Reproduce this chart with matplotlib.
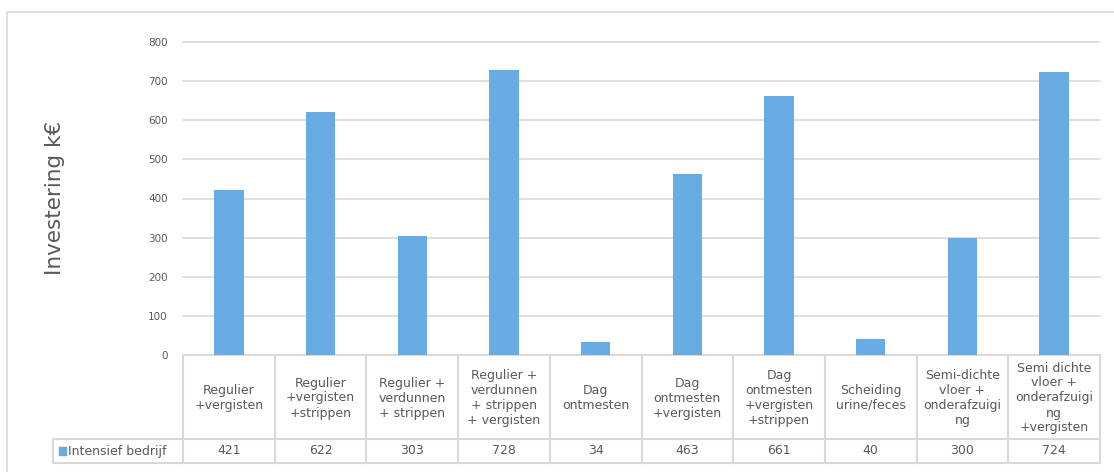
import matplotlib.pyplot as plt
from matplotlib.patches import Rectangle

categories = [
    "Regulier\n+vergisten",
    "Regulier\n+vergisten\n+strippen",
    "Regulier +\nverdunnen\n+ strippen",
    "Regulier +\nverdunnen\n+ strippen\n+ vergisten",
    "Dag\nontmesten",
    "Dag\nontmesten\n+vergisten",
    "Dag\nontmesten\n+vergisten\n+strippen",
    "Scheiding\nurine/feces",
    "Semi-dichte\nvloer +\nonderafzuigi\nng",
    "Semi dichte\nvloer +\nonderafzuigi\nng\n+vergisten",
]
series_name = "Intensief bedrijf"
investering = [421, 622, 303, 728, 34, 463, 661, 40, 300, 724]
yticks = [0, 100, 200, 300, 400, 500, 600, 700, 800]

W, H = 1114, 472
BLUE = "#69ABE3"
GRID = "#D9D9D9"
TXT = "#595959"

fig = plt.figure(figsize=(W / 100, H / 100), dpi=100)
fig.patches.append(Rectangle((7 / W, -0.1), 1.2, (H - 12) / H + 0.1,
                             transform=fig.transFigure, fill=False,
                             edgecolor=GRID, linewidth=1.2))

# plot area in pixels
x0, x1 = 183, 1100
y_top, y_base = 42, 355
ax = fig.add_axes([x0 / W, (H - y_base) / H, (x1 - x0) / W, (y_base - y_top) / H])
n = len(categories)
xs = list(range(n))
ax.bar(xs, investering, width=0.32, color=BLUE, zorder=3)
ax.set_xlim(-0.5, n - 0.5)
ax.set_ylim(0, 800)
ax.set_yticks(yticks)
ax.set_xticks([])
ax.grid(axis="y", color=GRID, linewidth=1.2, zorder=0)
for gl in ax.yaxis.get_gridlines():
    gl.set_clip_on(False)
for s in ax.spines.values():
    s.set_visible(False)
ax.tick_params(axis="y", length=0, pad=11, labelsize=7.5, labelcolor=TXT)
ax.axhline(0, color=GRID, linewidth=1.2, zorder=2, clip_on=False)
fig.text(55 / W, (H - 198) / H, "Investering k€", rotation=90, fontsize=15.5,
         color=TXT, ha="center", va="center")

# data table under the axis
unit = (x1 - x0) / n
t_left, t_top, t_mid, t_bot = 53, 357, 439, 463
tab = fig.add_axes([t_left / W, (H - t_bot) / H, (x1 - t_left) / W, (t_bot - t_top) / H])
tab.set_xlim(-0.5 - (x0 - t_left) / unit, n - 0.5)
tab.set_ylim(0, t_bot - t_top)
tab.axis("off")
mid = t_bot - t_mid
lc = dict(color=GRID, linewidth=1.5, clip_on=False)
lx = tab.get_xlim()[0]
tab.plot([lx, n - 0.5], [mid, mid], **lc)
tab.plot([lx, n - 0.5], [0, 0], **lc)
tab.plot([lx, lx], [0, mid], **lc)
for i in range(n + 1):
    tab.plot([i - 0.5, i - 0.5], [0, t_bot - t_top], **lc)
for i, (cat, v) in enumerate(zip(categories, investering)):
    tab.text(i, (mid + t_bot - t_top) / 2, cat, ha="center", va="center",
             fontsize=9, color=TXT, linespacing=1.2)
    tab.text(i, mid / 2, str(v), ha="center", va="center", fontsize=9, color=TXT)
tab.add_patch(Rectangle((lx + 6 / unit, mid / 2 - 4), 7 / unit, 8, color=BLUE))
tab.text(lx + 15 / unit, mid / 2, series_name, ha="left", va="center",
         fontsize=9, color=TXT)

fig.savefig("out.png", dpi=100)
